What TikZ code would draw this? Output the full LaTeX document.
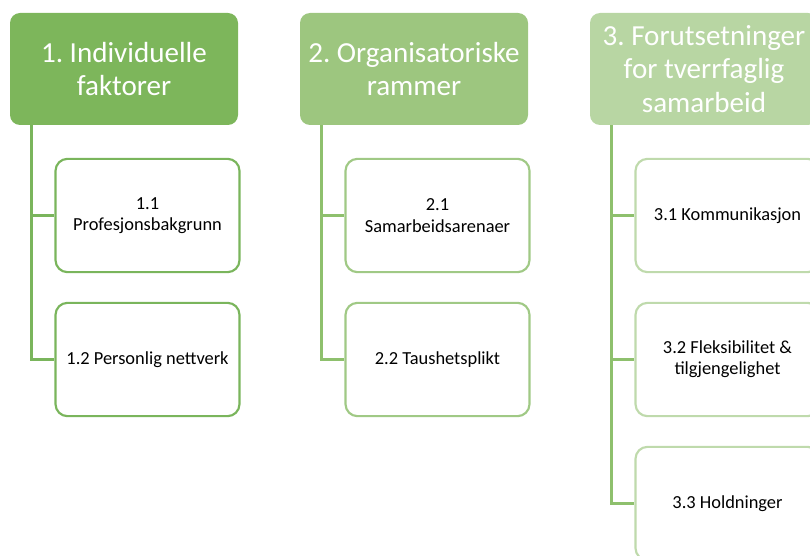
\documentclass[tikz,border=0pt]{standalone}
\usepackage{fontspec}
\setmainfont{Carlito}
\frenchspacing
\definecolor{hdA}{HTML}{7DB65B}
\definecolor{hdB}{HTML}{9DC67F}
\definecolor{hdC}{HTML}{B8D6A3}
\definecolor{bdA}{HTML}{7AB55C}
\definecolor{bdB}{HTML}{A0C985}
\definecolor{bdC}{HTML}{BFDAAC}
\definecolor{lnA}{HTML}{7AB55C}
\definecolor{lnB}{HTML}{8EC06D}
\definecolor{lnC}{HTML}{8EC06D}
\begin{document}
\begin{tikzpicture}[x=0.75pt,y=-0.75pt,
  header/.style={rectangle, rounded corners=7.5pt, fill=#1, draw=none,
    minimum width=171pt, minimum height=84pt, align=center,
    text=white, font=\fontsize{21.8}{25}\selectfont},
  child/.style={rectangle, rounded corners=9pt, fill=white, draw=#1, line width=1.6pt,
    minimum width=138pt, minimum height=85pt, align=center,
    text=black, font=\fontsize{13.8}{16}\selectfont},
  link/.style={draw=#1, line width=1.9pt}]
\useasboundingbox (0,0) rectangle (810,556);
\clip (0,0) rectangle (810,556);

% column 1
\node[header=hdA] (h1) at (124,69) {1. Individuelle\\faktorer};
\node[child=bdA] (c11) at (147.5,215.5) {1.1\\Profesjonsbakgrunn};
\node[child=bdA] (c12) at (147.5,359.5) {1.2 Personlig nettverk};
\draw[link=lnA] ([xshift=16.5pt]h1.south west) |- (c11.west);
\draw[link=lnA] ([xshift=16.5pt]h1.south west) |- (c12.west);

% column 2
\node[header=hdB] (h2) at (414,69) {2. Organisatoriske\\rammer};
\node[child=bdB] (c21) at (437.5,215.5) {2.1\\Samarbeidsarenaer};
\node[child=bdB] (c22) at (437.5,359.5) {2.2 Taushetsplikt};
\draw[link=lnB] ([xshift=16.5pt]h2.south west) |- (c21.west);
\draw[link=lnB] ([xshift=16.5pt]h2.south west) |- (c22.west);

% column 3
\node[header=hdC] (h3) at (704,69) {3. Forutsetninger\\for tverrfaglig\\samarbeid};
\node[child=bdC] (c31) at (727.5,215.5) {3.1 Kommunikasjon};
\node[child=bdC] (c32) at (727.5,359.5) {3.2 Fleksibilitet \&\\tilgjengelighet};
\node[child=bdC] (c33) at (727.5,503.5) {3.3 Holdninger};
\draw[link=lnC] ([xshift=16.5pt]h3.south west) |- (c31.west);
\draw[link=lnC] ([xshift=16.5pt]h3.south west) |- (c32.west);
\draw[link=lnC] ([xshift=16.5pt]h3.south west) |- (c33.west);
\end{tikzpicture}
\end{document}
